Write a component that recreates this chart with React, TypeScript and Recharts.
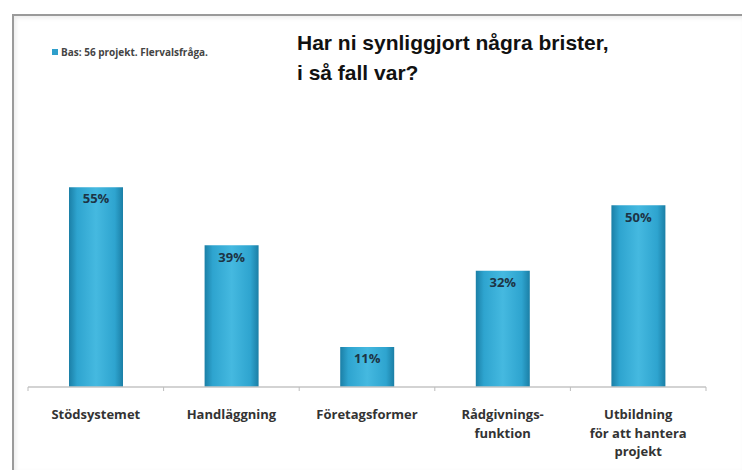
import { BarChart, Bar, XAxis, YAxis, LabelList } from 'recharts';

const categories = ['Stödsystemet', 'Handläggning', 'Företagsformer', 'Rådgivnings-\nfunktion', 'Utbildning\nför att hantera\nprojekt'];
const shares = [55, 39, 11, 32, 50];

const data = categories.map((name, i) => ({ name, value: shares[i] }));

const W = 742;
const H = 470;
const BAND = (W - 28 - 36) / categories.length;

function CategoryTick(props: any) {
    const { x, y, payload, index } = props;
    const lines = String(payload.value).split('\n');
    const axisY = y - 8;
    return (
        <g>
            {index === 0 && <line x1={x - BAND / 2} x2={x - BAND / 2} y1={axisY} y2={axisY + 4} stroke="#bdbdbd" />}
            <line x1={x + BAND / 2} x2={x + BAND / 2} y1={axisY} y2={axisY + 4} stroke="#bdbdbd" />
            <text x={x} y={axisY + 32} textAnchor="middle" fill="#333" fontSize={13} fontWeight={700} fontFamily="'Open Sans', sans-serif">
                {lines.map((l, i) => (
                    <tspan key={i} x={x} dy={i === 0 ? 0 : 18.5}>{l}</tspan>
                ))}
            </text>
        </g>
    );
}

export default function App() {
    return (
        <div style={{ position: 'absolute', left: 0, top: 0, width: W, height: H, background: '#fff', overflow: 'hidden' }}>
            <div style={{ position: 'absolute', left: 12, top: 14, right: 0, bottom: 0, borderTop: '2px solid #9a9a9a', borderLeft: '2px solid #9a9a9a', boxShadow: 'inset 2px 2px 4px rgba(0,0,0,0.08)' }} />
            <div style={{ position: 'absolute', left: 52, top: 45, fontFamily: "'Open Sans', sans-serif", fontSize: 10, fontWeight: 700, color: '#444', whiteSpace: 'nowrap', display: 'flex', alignItems: 'center' }}>
                <span style={{ display: 'inline-block', width: 6, height: 6, background: '#2f9fcb', marginRight: 3 }} />
                Bas: 56 projekt. Flervalsfråga.
            </div>
            <div style={{ position: 'absolute', left: 297, top: 28, fontFamily: '"Liberation Sans", Arial, sans-serif', fontSize: 21, fontWeight: 700, color: '#111', lineHeight: '30px', whiteSpace: 'nowrap' }}>
                Har ni synliggjort några brister,<br />i så fall var?
            </div>
            <div style={{ position: 'absolute', left: 0, top: 0 }}>
                <BarChart width={W} height={H} data={data} margin={{ top: 169, right: 36, left: 28, bottom: 0 }} barSize={54}>
                    <defs>
                        <linearGradient id="barFill" x1="0" y1="0" x2="1" y2="0">
                            <stop offset="0%" stopColor="#1b7fa6" />
                            <stop offset="15%" stopColor="#2ea4cf" />
                            <stop offset="50%" stopColor="#45b9e0" />
                            <stop offset="85%" stopColor="#2ea4cf" />
                            <stop offset="100%" stopColor="#1b7fa6" />
                        </linearGradient>
                    </defs>
                    <XAxis
                        dataKey="name"
                        interval={0}
                        stroke="#c4c4c4"
                        strokeWidth={1.5}
                        tickLine={false}
                        tick={<CategoryTick />}
                        height={83}
                    />
                    <YAxis hide domain={[0, 60]} />
                    <Bar dataKey="value" fill="url(#barFill)" isAnimationActive={false}>
                        <LabelList
                            dataKey="value"
                            position="insideTop"
                            offset={7}
                            formatter={(v: any) => `${v}%`}
                            fill="#1d3445"
                            fontSize={13}
                            fontWeight={700}
                            fontFamily="'Open Sans', sans-serif"
                        />
                    </Bar>
                </BarChart>
            </div>
        </div>
    );
}
